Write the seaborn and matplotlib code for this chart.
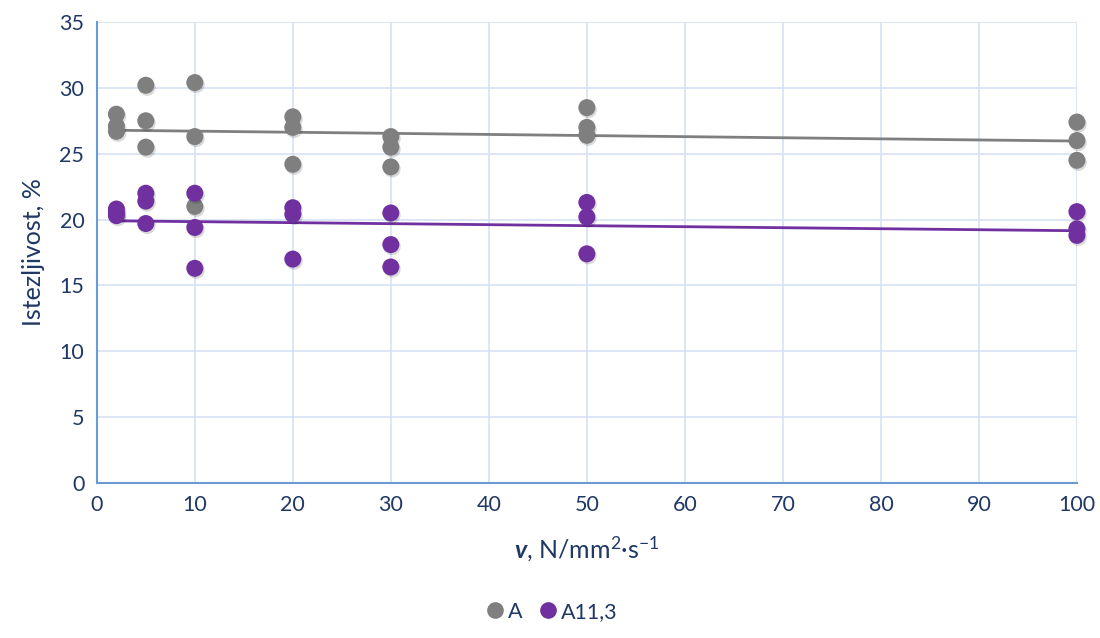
import matplotlib
matplotlib.use("Agg")
import matplotlib.pyplot as plt
import matplotlib.patheffects as pe
import seaborn as sns
import pandas as pd

# ---- data ----
x_vals = [2, 2, 2, 5, 5, 5, 10, 10, 10, 20, 20, 20, 30, 30, 30, 50, 50, 50, 100, 100, 100]
a_vals = [28.0, 27.1, 26.7, 30.2, 27.5, 25.5, 30.4, 26.3, 21.0, 27.8, 27.0, 24.2,
          26.3, 25.5, 24.0, 28.5, 27.0, 26.4, 27.4, 26.0, 24.5]
a113_vals = [20.8, 20.5, 20.3, 22.0, 21.4, 19.7, 22.0, 19.4, 16.3, 20.9, 20.4, 17.0,
             20.5, 18.1, 16.4, 21.3, 20.2, 17.4, 20.6, 19.3, 18.8]
series_names = ["A", "A11,3"]
x_ticks = list(range(0, 101, 10))
y_ticks = list(range(0, 36, 5))

df = pd.DataFrame({
    "v": x_vals * 2,
    "val": a_vals + a113_vals,
    "series": [series_names[0]] * len(a_vals) + [series_names[1]] * len(a113_vals),
})

colors = {"A": "#7F7F7F", "A11,3": "#7030A0"}
text_color = "#1F3864"

sns.set_theme(style="white")
plt.rcParams["font.family"] = ["Lato", "DejaVu Sans"]
plt.rcParams["mathtext.fontset"] = "custom"
plt.rcParams["mathtext.rm"] = "Lato"
plt.rcParams["mathtext.it"] = "Lato:italic"
plt.rcParams["mathtext.bf"] = "Lato:bold"
plt.rcParams["mathtext.bfit"] = "Lato:bold:italic"

fig = plt.figure(figsize=(11, 6.38), dpi=100)
ax = fig.add_axes([0.088, 0.243, 0.891, 0.7225])

for name in series_names:
    sub = df[df["series"] == name]
    sns.regplot(data=sub, x="v", y="val", ax=ax, scatter=False, ci=None,
                color=colors[name], line_kws={"linewidth": 2.0, "zorder": 2})
for name in series_names:
    sub = df[df["series"] == name]
    sns.scatterplot(data=sub, x="v", y="val", ax=ax, color=colors[name],
                    s=150, edgecolor="none", zorder=3, label=name, legend=False,
                    clip_on=False)
for coll in ax.collections:
    coll.set_path_effects([pe.SimplePatchShadow(offset=(1, -1.5), alpha=0.15, shadow_rgbFace="black"),
                           pe.Normal()])

ax.set_xlim(0, 100)
ax.set_ylim(0, 35)
ax.set_xticks(x_ticks)
ax.set_yticks(y_ticks)
ax.grid(True, color="#D5E2F3", linewidth=1.2)
ax.set_axisbelow(True)
for s in ["top", "right"]:
    ax.spines[s].set_visible(False)
for s in ["left", "bottom"]:
    ax.spines[s].set_color("#6A9BD3")
    ax.spines[s].set_linewidth(1.5)
ax.tick_params(axis="both", length=0, labelsize=15.5, labelcolor=text_color, pad=9)

ax.set_ylabel("Istezljivost, %", fontsize=18, color=text_color, labelpad=10)
ax.set_xlabel(r"$\mathbfit{v}$, N/mm$^{2}$·s$^{-1}$", fontsize=18, color=text_color, labelpad=14)

handles = [plt.Line2D([], [], marker="o", linestyle="none", markersize=12,
                      markerfacecolor=colors[n], markeredgecolor="none") for n in series_names]
fig.legend(handles, series_names, loc="lower center", bbox_to_anchor=(0.5, -0.005), ncol=2,
           frameon=False, fontsize=15.5, labelcolor=text_color, handletextpad=0.0,
           columnspacing=0.6, handlelength=1.2)

fig.savefig("out.png", dpi=100)
